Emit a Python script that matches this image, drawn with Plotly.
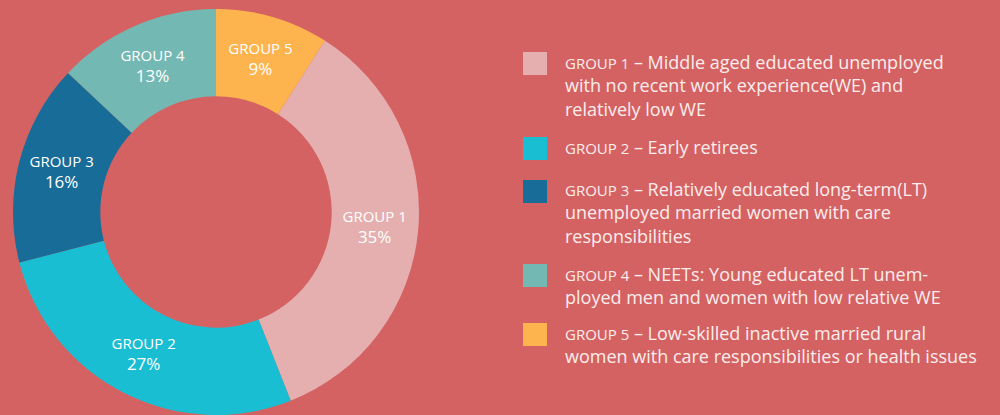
import plotly.graph_objects as go

# ---- data ----
labels = ["GROUP 1", "GROUP 2", "GROUP 3", "GROUP 4", "GROUP 5"]
values = [35, 27, 16, 13, 9]
descriptions = [
    "Middle aged educated unemployed<br>with no recent work experience(WE) and<br>relatively low WE",
    "Early retirees",
    "Relatively educated long-term(LT)<br>unemployed married women with care<br>responsibilities",
    "NEETs: Young educated LT unem-<br>ployed men and women with low relative WE",
    "Low-skilled inactive married rural<br>women with care responsibilities or health issues",
]
colors = ["#E5AFAF", "#1ABED3", "#186C98", "#74B8B3", "#FDB44E"]

BG = "#D46262"
W, H = 1000, 415
FONT = "Open Sans"
TXT = "#FCEDED"

rotation = 360.0 * values[-1] / sum(values)

fig = go.Figure()
fig.add_trace(go.Pie(
    labels=labels,
    values=values,
    sort=False,
    direction="clockwise",
    rotation=rotation,
    hole=0.57,
    marker=dict(colors=colors, line=dict(width=0)),
    texttemplate="<span style='font-size:15px'>%{label}</span><br><span style='font-size:17px'>%{percent}</span>",
    textposition="inside",
    insidetextorientation="horizontal",
    textfont=dict(family=FONT, color="white", size=16),
    showlegend=False,
    domain=dict(x=[13 / W, 419 / W], y=[0, 406 / H]),
))

# ---- custom legend ----
sq_tops = [52, 137, 180, 264, 323]
txt_tops = [48, 133, 175, 260, 319]
for i in range(len(labels)):
    fig.add_shape(type="rect", xref="paper", yref="paper",
                  x0=523 / W, x1=547 / W,
                  y0=1 - sq_tops[i] / H, y1=1 - (sq_tops[i] + 23) / H,
                  fillcolor=colors[i], line=dict(width=0), layer="above")
    fig.add_annotation(
        xref="paper", yref="paper", x=563 / W, y=1 - txt_tops[i] / H,
        xanchor="left", yanchor="top", align="left", showarrow=False,
        text=f"<span style='font-size:15px'>{labels[i]}</span> – {descriptions[i]}",
        font=dict(family=FONT, size=18, color=TXT),
    )

fig.update_layout(
    width=W, height=H,
    margin=dict(l=0, r=0, t=0, b=0),
    paper_bgcolor=BG, plot_bgcolor=BG,
)

fig.write_html(
    "out.html",
    config={"displayModeBar": False},
    post_script="document.body.style.margin='0';document.body.style.background='" + BG + "';",
)
